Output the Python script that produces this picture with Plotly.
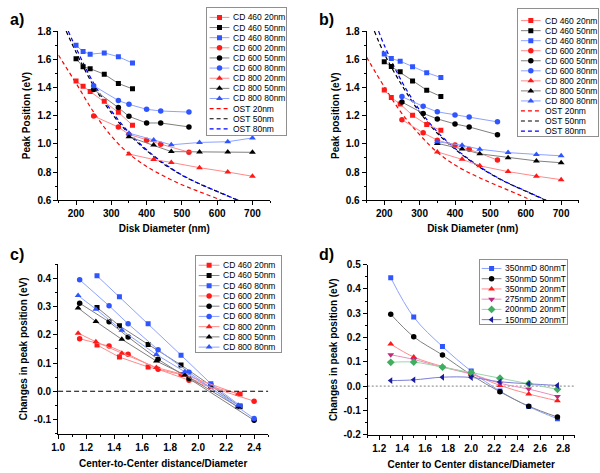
import plotly.graph_objects as go

# ---------------- panel a data ----------------
A_CD460_D = [200, 220, 240, 280, 320, 360]
A_CD600_D = [250, 320, 350, 400, 440, 520]
A_CD800_D = [350, 420, 470, 550, 630, 700]
A_CD460_20 = [1.445, 1.408, 1.372, 1.302, 1.224, 1.132]
A_CD460_50 = [1.604, 1.547, 1.533, 1.494, 1.428, 1.390]
A_CD460_80 = [1.699, 1.655, 1.636, 1.645, 1.618, 1.573]
A_CD600_20 = [1.197, 1.119, 1.067, 1.026, 0.998, 0.941]
A_CD600_50 = [1.385, 1.257, 1.195, 1.148, 1.148, 1.120]
A_CD600_80 = [1.412, 1.307, 1.280, 1.245, 1.233, 1.225]
A_CD800_20 = [0.928, 0.889, 0.868, 0.831, 0.800, 0.770]
A_CD800_50 = [1.050, 0.991, 0.945, 0.943, 0.943, 0.940]
A_CD800_80 = [1.076, 1.027, 0.993, 1.010, 1.015, 1.042]
A_OST20_D = [150, 200, 250, 300, 350, 400, 450, 500, 550, 600, 612]
A_OST20 = [1.63, 1.43, 1.225, 1.055, 0.93, 0.84, 0.77, 0.71, 0.66, 0.612, 0.60]
A_OST50_D = [172, 200, 250, 300, 350, 400, 450, 500, 550, 600, 658]
A_OST50 = [1.80, 1.65, 1.41, 1.22, 1.07, 0.952, 0.855, 0.778, 0.715, 0.662, 0.60]
A_OST80_D = [178, 200, 250, 300, 350, 400, 450, 500, 550, 600, 660]
A_OST80 = [1.80, 1.68, 1.43, 1.235, 1.08, 0.958, 0.86, 0.78, 0.717, 0.663, 0.60]

# ---------------- panel b data ----------------
B_CD460_D = [200, 220, 245, 280, 320, 360]
B_CD600_D = [250, 310, 350, 400, 440, 520]
B_CD800_D = [350, 420, 470, 550, 630, 700]
B_CD460_20 = [1.382, 1.328, 1.282, 1.202, 1.137, 1.096]
B_CD460_50 = [1.582, 1.548, 1.511, 1.446, 1.381, 1.336]
B_CD460_80 = [1.638, 1.605, 1.586, 1.547, 1.505, 1.470]
B_CD600_20 = [1.171, 1.078, 1.026, 0.991, 0.962, 0.885]
B_CD600_50 = [1.296, 1.216, 1.177, 1.141, 1.120, 1.065]
B_CD600_80 = [1.335, 1.266, 1.227, 1.205, 1.190, 1.156]
B_CD800_20 = [0.943, 0.890, 0.844, 0.803, 0.771, 0.746]
B_CD800_50 = [1.003, 0.964, 0.929, 0.902, 0.879, 0.866]
B_CD800_80 = [1.015, 0.990, 0.962, 0.938, 0.925, 0.915]
B_OST20_D = [150, 200, 250, 300, 350, 400, 450, 500, 550, 600, 615]
B_OST20 = [1.615, 1.405, 1.215, 1.065, 0.94, 0.85, 0.782, 0.725, 0.672, 0.618, 0.60]
B_OST50_D = [172, 200, 250, 300, 350, 400, 450, 500, 550, 600, 656]
B_OST50 = [1.80, 1.64, 1.415, 1.225, 1.075, 0.962, 0.868, 0.787, 0.72, 0.664, 0.60]
B_OST80_D = [184, 200, 250, 300, 350, 400, 450, 500, 550, 600, 658]
B_OST80 = [1.80, 1.70, 1.44, 1.24, 1.085, 0.968, 0.872, 0.79, 0.722, 0.666, 0.60]

# ---------------- panel c data ----------------
C_CD460_X = [1.278, 1.438, 1.643, 1.878, 2.091, 2.300]
C_CD600_X = [1.154, 1.364, 1.500, 1.714, 1.935, 2.400]
C_CD800_X = [1.143, 1.270, 1.455, 1.702, 1.905, 2.286]
C_CD460_20 = [0.164, 0.121, 0.086, 0.059, 0.016, -0.010]
C_CD460_50 = [0.297, 0.232, 0.166, 0.093, 0.020, -0.055]
C_CD460_80 = [0.409, 0.335, 0.239, 0.128, 0.027, -0.051]
C_CD600_20 = [0.186, 0.160, 0.131, 0.078, 0.039, -0.035]
C_CD600_50 = [0.312, 0.246, 0.192, 0.113, 0.045, -0.103]
C_CD600_80 = [0.395, 0.303, 0.239, 0.147, 0.067, -0.097]
C_CD800_20 = [0.206, 0.175, 0.135, 0.084, 0.058, -0.010]
C_CD800_50 = [0.295, 0.247, 0.184, 0.107, 0.058, -0.056]
C_CD800_80 = [0.339, 0.291, 0.216, 0.130, 0.069, -0.050]

# ---------------- panel d data ----------------
D_X = [1.3, 1.5, 1.75, 2.0, 2.25, 2.5, 2.75]
D_350_80 = [0.446, 0.284, 0.163, 0.062, -0.020, -0.084, -0.134]
D_350_50 = [0.296, 0.203, 0.128, 0.046, -0.023, -0.082, -0.127]
D_350_20 = [0.173, 0.120, 0.081, 0.050, 0.003, -0.032, -0.060]
D_275_20 = [0.129, 0.110, 0.078, 0.050, 0.012, -0.012, -0.042]
D_200_20 = [0.098, 0.099, 0.078, 0.056, 0.033, 0.010, -0.013]
D_150_20 = [0.023, 0.026, 0.037, 0.036, 0.018, 0.010, 0.003]

# ---------------- names & ticks ----------------
CD_NAMES = ["CD 460 20nm", "CD 460 50nm", "CD 460 80nm",
            "CD 600 20nm", "CD 600 50nm", "CD 600 80nm",
            "CD 800 20nm", "CD 800 50nm", "CD 800 80nm"]
OST_NAMES = ["OST 20nm", "OST 50nm", "OST 80nm"]
D_NAMES = ["350nmD 80nmT", "350nmD 50nmT", "350nmD 20nmT",
           "275nmD 20nmT", "200nmD 20nmT", "150nmD 20nmT"]

AB_XTICKS = [200, 300, 400, 500, 600, 700]
AB_XLABELS = ["200", "300", "400", "500", "600", "700"]
AB_YTICKS = [0.6, 0.8, 1.0, 1.2, 1.4, 1.6, 1.8]
AB_YLABELS = ["0.6", "0.8", "1.0", "1.2", "1.4", "1.6", "1.8"]
C_XTICKS = [1.0, 1.2, 1.4, 1.6, 1.8, 2.0, 2.2, 2.4]
C_XLABELS = ["1.0", "1.2", "1.4", "1.6", "1.8", "2.0", "2.2", "2.4"]
C_YTICKS = [-0.1, 0.0, 0.1, 0.2, 0.3, 0.4]
C_YLABELS = ["-0.1", "0.0", "0.1", "0.2", "0.3", "0.4"]
D_XTICKS = [1.2, 1.4, 1.6, 1.8, 2.0, 2.2, 2.4, 2.6, 2.8]
D_XLABELS = ["1.2", "1.4", "1.6", "1.8", "2.0", "2.2", "2.4", "2.6", "2.8"]
D_YTICKS = [-0.2, -0.1, 0.0, 0.1, 0.2, 0.3, 0.4, 0.5]
D_YLABELS = ["-0.2", "-0.1", "0.0", "0.1", "0.2", "0.3", "0.4", "0.5"]

# ---------------- styles ----------------
W, H = 600, 473
FONT = "Liberation Sans, Arial, sans-serif"
RED_M, RED_L = "#ff1a1a", "#ff8a8a"
BLK_M, BLK_L = "#000000", "#808080"
BLU_M, BLU_L = "#2f55ff", "#8ea2ff"
MAG_M, MAG_L = "#c02a7a", "#e690bf"
GRN_M, GRN_L = "#3fae5f", "#9ad6a8"
NAV_M, NAV_L = "#1c1ca0", "#7c7cd8"

CD_STYLES = [
    (RED_M, RED_L, "square", 5), (BLK_M, BLK_L, "square", 5), (BLU_M, BLU_L, "square", 5),
    (RED_M, RED_L, "circle", 5.5), (BLK_M, BLK_L, "circle", 5.5), (BLU_M, BLU_L, "circle", 5.5),
    (RED_M, RED_L, "triangle-up", 6), (BLK_M, BLK_L, "triangle-up", 6), (BLU_M, BLU_L, "triangle-up", 6),
]
OST_COLORS = ["#ff0000", "#000000", "#0000ff"]
D_STYLES = [
    (BLU_M, BLU_L, "square", 5), (BLK_M, BLK_L, "circle", 5.5), (RED_M, RED_L, "triangle-up", 6),
    (MAG_M, MAG_L, "triangle-down", 6), (GRN_M, GRN_L, "diamond", 6), (NAV_M, NAV_L, "triangle-left", 6),
]
DASH = "4px,3px"

fig = go.Figure()


def px_dom(a, b, total, flip=False):
    if flip:
        return [1 - b / total, 1 - a / total]
    return [a / total, b / total]


def add_series(xs, ys, style, xa, ya, shape="linear"):
    mc, lc, sym, sz = style
    fig.add_trace(go.Scatter(x=xs, y=ys, mode="lines", xaxis=xa, yaxis=ya,
                             line=dict(color=lc, width=1, shape=shape),
                             showlegend=False, hoverinfo="skip"))
    fig.add_trace(go.Scatter(x=xs, y=ys, mode="markers", xaxis=xa, yaxis=ya,
                             marker=dict(color=mc, symbol=sym, size=sz, line=dict(width=0)),
                             showlegend=False))


def add_ost(xs, ys, color, xa, ya):
    fig.add_trace(go.Scatter(x=xs, y=ys, mode="lines", xaxis=xa, yaxis=ya,
                             line=dict(color=color, width=1.2, dash=DASH, shape="spline", smoothing=1.0),
                             showlegend=False, hoverinfo="skip"))


# panel a
for xs, ys, c in zip([A_OST20_D, A_OST50_D, A_OST80_D], [A_OST20, A_OST50, A_OST80], OST_COLORS):
    add_ost(xs, ys, c, "x", "y")
A_SETS = [(A_CD460_D, A_CD460_20), (A_CD460_D, A_CD460_50), (A_CD460_D, A_CD460_80),
          (A_CD600_D, A_CD600_20), (A_CD600_D, A_CD600_50), (A_CD600_D, A_CD600_80),
          (A_CD800_D, A_CD800_20), (A_CD800_D, A_CD800_50), (A_CD800_D, A_CD800_80)]
for (xs, ys), st in zip(A_SETS, CD_STYLES):
    add_series(xs, ys, st, "x", "y")

# panel b
for xs, ys, c in zip([B_OST20_D, B_OST50_D, B_OST80_D], [B_OST20, B_OST50, B_OST80], OST_COLORS):
    add_ost(xs, ys, c, "x2", "y2")
B_SETS = [(B_CD460_D, B_CD460_20), (B_CD460_D, B_CD460_50), (B_CD460_D, B_CD460_80),
          (B_CD600_D, B_CD600_20), (B_CD600_D, B_CD600_50), (B_CD600_D, B_CD600_80),
          (B_CD800_D, B_CD800_20), (B_CD800_D, B_CD800_50), (B_CD800_D, B_CD800_80)]
for (xs, ys), st in zip(B_SETS, CD_STYLES):
    add_series(xs, ys, st, "x2", "y2")

# panel c
C_SETS = [(C_CD460_X, C_CD460_20), (C_CD460_X, C_CD460_50), (C_CD460_X, C_CD460_80),
          (C_CD600_X, C_CD600_20), (C_CD600_X, C_CD600_50), (C_CD600_X, C_CD600_80),
          (C_CD800_X, C_CD800_20), (C_CD800_X, C_CD800_50), (C_CD800_X, C_CD800_80)]
for (xs, ys), st in zip(C_SETS, CD_STYLES):
    add_series(xs, ys, st, "x3", "y3")

# panel d
D_SETS = [D_350_80, D_350_50, D_350_20, D_275_20, D_200_20, D_150_20]
for ys, st in zip(D_SETS, D_STYLES):
    add_series(D_X, ys, st, "x4", "y4", shape="spline")

# ---------------- axes ----------------
def axis(dom, rng, tv, tt, minor_dtick, minor_tick0, anchor, title, standoff):
    return dict(domain=dom, range=rng, anchor=anchor, tickmode="array", tickvals=tv, ticktext=tt,
                showline=True, linecolor="black", linewidth=1, mirror=False,
                ticks="outside", ticklen=4, tickwidth=1, tickcolor="black",
                showgrid=False, zeroline=False,
                tickfont=dict(family=FONT, size=10, color="black", weight="bold"),
                minor=dict(tickmode="linear", dtick=minor_dtick, tick0=minor_tick0,
                           ticks="outside", ticklen=2, tickwidth=1, tickcolor="black", showgrid=False),
                title=dict(text=title, standoff=standoff,
                           font=dict(family=FONT, size=10, color="black", weight="bold")))


AY = px_dom(25.7, 199.3, H, True)
CY = px_dom(265.0, 438.7, H, True)
DY = px_dom(265.3, 440.0, H, True)

layout_axes = dict(
    xaxis=axis(px_dom(52.0, 266.2, W), [150, 750], AB_XTICKS, AB_XLABELS, 50, 150, "y", "Disk Diameter (nm)", 6),
    yaxis=axis(AY, [0.6, 1.8], AB_YTICKS, AB_YLABELS, 0.1, 0.6, "x", "Peak Position (eV)", 4),
    xaxis2=axis(px_dom(363.8, 578.6, W), [150, 750], AB_XTICKS, AB_XLABELS, 50, 150, "y2", "Disk Diameter (nm)", 6),
    yaxis2=axis(AY, [0.6, 1.8], AB_YTICKS, AB_YLABELS, 0.1, 0.6, "x2", "Peak position (eV)", 4),
    xaxis3=axis(px_dom(51.7, 264.2, W), [1.0, 2.5], C_XTICKS, C_XLABELS, 0.1, 1.0, "y3", "Center-to-Center distance/Diameter", 8),
    yaxis3=axis(CY, [-0.15, 0.45], C_YTICKS, C_YLABELS, 0.05, -0.15, "x3", "Changes in peak position (eV)", 4),
    xaxis4=axis(px_dom(365.0, 574.4, W), [1.1, 2.9], D_XTICKS, D_XLABELS, 0.1, 1.1, "y4", "Center to Center distance/Diameter", 8),
    yaxis4=axis(DY, [-0.2, 0.5], D_YTICKS, D_YLABELS, 0.05, -0.2, "x4", "Changes in peak position (eV)", 4),
)

# ---------------- legends (drawn in small auxiliary axes) ----------------
annotations = []


def add_legend(n, box, names, styles, first_row, spacing, seg, text_x):
    x0, y0, x1, y1 = box
    w, h = x1 - x0, y1 - y0
    xa, ya = "x%d" % n, "y%d" % n
    layout_axes["xaxis%d" % n] = dict(domain=px_dom(x0, x1, W), range=[0, w], anchor=ya,
                                      showline=True, mirror=True, linecolor="#8f8f8f", linewidth=1,
                                      showticklabels=False, ticks="", showgrid=False, zeroline=False,
                                      fixedrange=True)
    layout_axes["yaxis%d" % n] = dict(domain=px_dom(y0, y1, H, True), range=[h, 0], anchor=xa,
                                      showline=True, mirror=True, linecolor="#8f8f8f", linewidth=1,
                                      showticklabels=False, ticks="", showgrid=False, zeroline=False,
                                      fixedrange=True)
    for i, (name, st) in enumerate(zip(names, styles)):
        yy = first_row - y0 + i * spacing
        if st[0] == "ost":
            fig.add_trace(go.Scatter(x=[seg[0], seg[1]], y=[yy, yy], mode="lines", xaxis=xa, yaxis=ya,
                                     line=dict(color=st[1], width=1.2, dash=DASH),
                                     showlegend=False, hoverinfo="skip"))
        else:
            mc, lc, sym, sz = st
            fig.add_trace(go.Scatter(x=[seg[0], seg[1]], y=[yy, yy], mode="lines", xaxis=xa, yaxis=ya,
                                     line=dict(color=lc, width=1), showlegend=False, hoverinfo="skip"))
            fig.add_trace(go.Scatter(x=[(seg[0] + seg[1]) / 2], y=[yy], mode="markers", xaxis=xa, yaxis=ya,
                                     marker=dict(color=mc, symbol=sym, size=sz, line=dict(width=0)),
                                     showlegend=False, hoverinfo="skip"))
        annotations.append(dict(x=text_x, y=yy, xref=xa, yref=ya, text=name, showarrow=False,
                                xanchor="left", yanchor="middle",
                                font=dict(family=FONT, size=8.5, color="black")))


AB_LEG_STYLES = CD_STYLES + [("ost", c) for c in OST_COLORS]
add_legend(5, (202.0, 2.0, 282.0, 132.0), CD_NAMES + OST_NAMES, AB_LEG_STYLES, 11.7, 10.4, (3, 23), 25)
add_legend(6, (517.0, 3.3, 598.0, 133.3), CD_NAMES + OST_NAMES, AB_LEG_STYLES, 15.0, 10.3, (3, 23), 25)
add_legend(7, (191.0, 256.7, 277.3, 355.0), CD_NAMES, CD_STYLES, 266.0, 10.5, (3, 24), 26)
add_legend(8, (478.3, 261.0, 566.7, 326.7), D_NAMES, D_STYLES, 269.3, 10.5, (2, 22), 24)

# panel labels
for lab, px, py in [("a)", 1, 14), ("b)", 314, 14), ("c)", 1, 255), ("d)", 314, 255)]:
    annotations.append(dict(x=px / W, y=1 - py / H, xref="paper", yref="paper", text=lab,
                            showarrow=False, xanchor="left", yanchor="middle",
                            font=dict(family=FONT, size=16, color="black", weight="bold")))

shapes = [
    dict(type="line", xref="x3 domain", yref="y3", x0=0, x1=1, y0=0, y1=0,
         line=dict(color="black", width=1.2, dash="5px,3px")),
    dict(type="line", xref="x4 domain", yref="y4", x0=0, x1=1, y0=0, y1=0,
         line=dict(color="#9a9a9a", width=1.2, dash="2px,2px"), layer="below"),
]

fig.update_layout(
    width=W, height=H, margin=dict(l=0, r=0, t=0, b=0),
    paper_bgcolor="white", plot_bgcolor="white",
    font=dict(family=FONT, size=10, color="black"),
    showlegend=False, annotations=annotations, shapes=shapes,
    **layout_axes,
)

fig.write_html("out.html", config={"displayModeBar": False},
               post_script="document.body.style.margin='0px';document.body.style.overflow='hidden';")
